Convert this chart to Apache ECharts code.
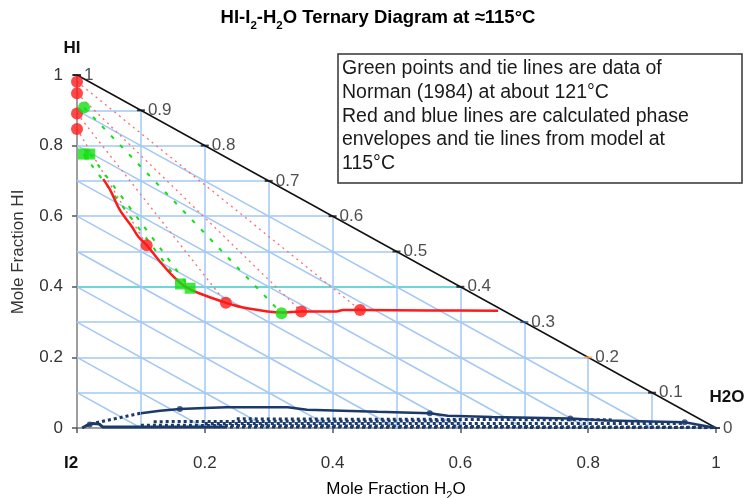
<!DOCTYPE html>
<html>
<head>
<meta charset="utf-8">
<script src="https://cdn.jsdelivr.net/npm/echarts@6/dist/echarts.min.js"></script>
<style>
html,body{margin:0;padding:0;background:#fff;}
#chart{width:747px;height:498px;}
</style>
</head>
<body>
<div id="chart"></div>
<script>
// ---------- data ----------
const xTickValues = [0, 0.2, 0.4, 0.6, 0.8, 1];
const xTickLabels = ['', '0.2', '0.4', '0.6', '0.8', '1'];
const yTickLabels = ['0', '0.2', '0.4', '0.6', '0.8', '1'];
const gridLevels = [0.1, 0.2, 0.3, 0.4, 0.5, 0.6, 0.7, 0.8, 0.9];
const hypValues = [1, 0.9, 0.8, 0.7, 0.6, 0.5, 0.4, 0.3, 0.2, 0.1, 0];
const hypLabels = ['1', '0.9', '0.8', '0.7', '0.6', '0.5', '0.4', '0.3', '0.2', '0.1', '0'];
const hypTickColors = ['#111', '#111', '#111', '#111', '#111', '#111', '#111', '#2a4fb8', '#ffaa55', '#111', '#111'];

// red model envelope (x = H2O, y = HI)
const redEnvelope = [[0.041,0.705],[0.052,0.674],[0.067,0.618],[0.086,0.570],[0.096,0.542],[0.109,0.518],
  [0.130,0.471],[0.151,0.429],[0.170,0.400],[0.192,0.381],[0.233,0.355],[0.266,0.339],[0.320,0.327],
  [0.351,0.330],[0.406,0.330],[0.416,0.334],[0.443,0.334],[0.550,0.333],[0.659,0.332]];
const redHIPoints = [[0,0.981],[0,0.948],[0,0.891],[0,0.847]];
const redCurvePoints = [[0.443,0.334],[0.351,0.330],[0.233,0.355],[0.109,0.518]];

// green data (Norman 1984)
const greenCircles = [[0.011,0.908],[0.320,0.325]];
const greenSquares = [[0.010,0.776],[0.020,0.776],[0.162,0.408],[0.177,0.396]];
const greenTieStart = [[0.011,0.908],[0.010,0.776],[0.020,0.776]];
const greenTieEnd = [[0.320,0.325],[0.162,0.408],[0.177,0.396]];

// blue model envelope near HI = 0
const blueUpper = [[0.10,0.042],[0.13,0.049],[0.161,0.054],[0.20,0.057],[0.234,0.059],[0.33,0.059],
  [0.36,0.052],[0.47,0.046],[0.552,0.042],[0.58,0.035],[0.65,0.031],[0.772,0.027],[0.83,0.021],
  [0.951,0.016],[1,0]];
const blueLower = [[0.008,0.0],[0.015,0.007],[0.025,0.013],[0.035,0.011],[0.04,0.003],[0.23,0.003]];
const blueMarkers = [[0.161,0.054],[0.552,0.042],[0.772,0.027],[0.951,0.016],[0.02,0.01]];
const blueTieStart = [[0.03,0.015],[0.25,0.026],[0.10,0.008],[0.20,0.013],[0.23,0.003],[0.12,0.018]];
const blueTieEnd = [[0.10,0.042],[0.84,0.023],[1,0.002],[0.95,0.013],[1,0.001],[0.60,0.020]];

const boxLines = ['Green points and tie lines are data of', 'Norman (1984) at about 121°C',
  'Red and blue lines are calculated phase', 'envelopes and tie lines from model at', '115°C'];

// ---------- build ----------
const GRIDBLUE = '#a3c8f5';
const gridSegs = [];
gridLevels.forEach(k => {
  gridSegs.push({coords: [[0, k], [1 - k, k]], lineStyle: {color: Math.abs(k - 0.4) < 1e-9 ? '#3cc8c8' : GRIDBLUE}});
  gridSegs.push({coords: [[k, 0], [k, 1 - k]]});
  gridSegs.push({coords: [[0, k], [k, 0]]});
});
const redTies = redHIPoints.map((p, i) => ({coords: [p, redCurvePoints[i]]}));
const greenTies = greenTieStart.map((p, i) => ({coords: [p, greenTieEnd[i]]}));
const blueTies = blueTieStart.map((p, i) => ({coords: [p, blueTieEnd[i]]}));
const hypData = hypValues.map((v, i) => ({value: [1 - v, v], name: hypLabels[i], itemStyle: {color: hypTickColors[i]}}));

function pick(arr, v) {
  const i = xTickValues.findIndex(t => Math.abs(t - v) < 1e-6);
  return i < 0 ? '' : arr[i];
}
const NAVY = '#1b3a6a';
const GREEN = '#11e011';
const FF = 'Liberation Sans, Arial';
const chart = echarts.init(document.getElementById('chart'), null, {renderer: 'canvas'});
const subRich = {
  n: {fontSize: 18.5, fontWeight: 'bold', fontFamily: FF, color: '#111', lineHeight: 22},
  s: {fontSize: 11.5, fontWeight: 'bold', fontFamily: FF, color: '#111', verticalAlign: 'bottom', lineHeight: 27}
};
const axRich = {
  n: {fontSize: 17, fontFamily: FF, color: '#333', lineHeight: 20},
  s: {fontSize: 11, fontFamily: FF, color: '#333', verticalAlign: 'bottom', lineHeight: 25}
};
const textEls = [
  {type: 'text', x: 378, y: 18, style: {text: '{n|HI-I}{s|2}{n|-H}{s|2}{n|O Ternary Diagram at ≈115°C}', rich: subRich, align: 'center', verticalAlign: 'middle'}},
  {type: 'text', x: 72, y: 48, style: {text: 'HI', font: 'bold 17px ' + FF, fill: '#111', align: 'center', verticalAlign: 'middle'}},
  {type: 'text', x: 71, y: 463, style: {text: 'I2', font: 'bold 17px ' + FF, fill: '#111', align: 'center', verticalAlign: 'middle'}},
  {type: 'text', x: 727, y: 397, style: {text: 'H2O', font: 'bold 17px ' + FF, fill: '#111', align: 'center', verticalAlign: 'middle'}},
  {type: 'text', x: 396, y: 489, style: {text: '{n|Mole Fraction H}{s|2}{n|O}', rich: axRich, align: 'center', verticalAlign: 'middle'}},
  {type: 'text', x: 18, y: 252, rotation: Math.PI / 2, style: {text: 'Mole Fraction HI', font: '17px ' + FF, fill: '#333', align: 'center', verticalAlign: 'middle'}},
  {type: 'rect', shape: {x: 338, y: 54, width: 404, height: 129}, style: {fill: '#fff', stroke: '#333', lineWidth: 1.5}}
];
boxLines.forEach((t, i) => {
  textEls.push({type: 'text', x: 342, y: 69 + i * 23.7, style: {text: t, font: '19.5px ' + FF, fill: '#1a1a1a', align: 'left', verticalAlign: 'middle'}});
});

const option = {
  animation: false,
  backgroundColor: '#fff',
  grid: {left: 77, right: 31, top: 75, bottom: 70},
  xAxis: {
    type: 'value', min: 0, max: 1, interval: 0.2,
    axisLine: {show: true, lineStyle: {color: '#7f7f7f', width: 1.5}},
    axisTick: {show: true, length: 5, lineStyle: {color: '#555', width: 1.5}},
    splitLine: {show: false},
    axisLabel: {formatter: v => pick(xTickLabels, v), margin: 27, fontSize: 17, color: '#333', fontFamily: FF}
  },
  yAxis: {
    type: 'value', min: 0, max: 1, interval: 0.2,
    axisLine: {show: true, lineStyle: {color: '#7f7f7f', width: 1.5}},
    axisTick: {show: true, length: 5, lineStyle: {color: '#555', width: 1.5}},
    splitLine: {show: false},
    axisLabel: {formatter: v => pick(yTickLabels, v), margin: 14, fontSize: 17, color: '#333', fontFamily: FF}
  },
  graphic: textEls,
  series: [
    {type: 'lines', coordinateSystem: 'cartesian2d', z: 1, silent: true,
      lineStyle: {color: GRIDBLUE, width: 1.5, opacity: 1}, data: gridSegs},
    {type: 'lines', coordinateSystem: 'cartesian2d', z: 2, silent: true,
      lineStyle: {color: '#111', width: 1.5, opacity: 1}, data: [{coords: [[0, 1], [1, 0]]}]},
    {type: 'scatter', z: 3, symbol: 'rect', symbolSize: [8, 2], data: hypData,
      label: {show: true, position: 'right', distance: 3, formatter: p => p.name, fontSize: 17, color: '#222', fontFamily: FF}},
    {type: 'lines', coordinateSystem: 'cartesian2d', z: 4, silent: true,
      lineStyle: {color: '#ff6a6a', width: 1.3, type: [2, 4], opacity: 1}, data: redTies},
    {type: 'lines', coordinateSystem: 'cartesian2d', z: 4, silent: true,
      lineStyle: {color: GREEN, width: 2, type: [4, 9], opacity: 1}, data: greenTies},
    {type: 'lines', coordinateSystem: 'cartesian2d', z: 4, silent: true,
      lineStyle: {color: NAVY, width: 3, type: [3, 3], opacity: 1}, data: blueTies},
    {type: 'line', z: 5, data: redEnvelope, showSymbol: false, smooth: 0.3,
      lineStyle: {color: '#ff1a1a', width: 2.5}},
    {type: 'line', z: 5, data: blueUpper, showSymbol: false,
      lineStyle: {color: NAVY, width: 2.5}},
    {type: 'line', z: 5, data: blueLower, showSymbol: false,
      lineStyle: {color: NAVY, width: 3}},
    {type: 'scatter', z: 6, data: redHIPoints.concat(redCurvePoints), symbol: 'circle', symbolSize: 12,
      itemStyle: {color: '#ff1a1a'}},
    {type: 'scatter', z: 6, data: greenCircles, symbol: 'circle', symbolSize: 12, itemStyle: {color: GREEN}},
    {type: 'scatter', z: 6, data: greenSquares, symbol: 'rect', symbolSize: 11, itemStyle: {color: GREEN}},
    {type: 'scatter', z: 6, data: blueMarkers, symbol: 'circle', symbolSize: 6, itemStyle: {color: NAVY}}
  ]
};
chart.setOption(option);
</script>
</body>
</html>
